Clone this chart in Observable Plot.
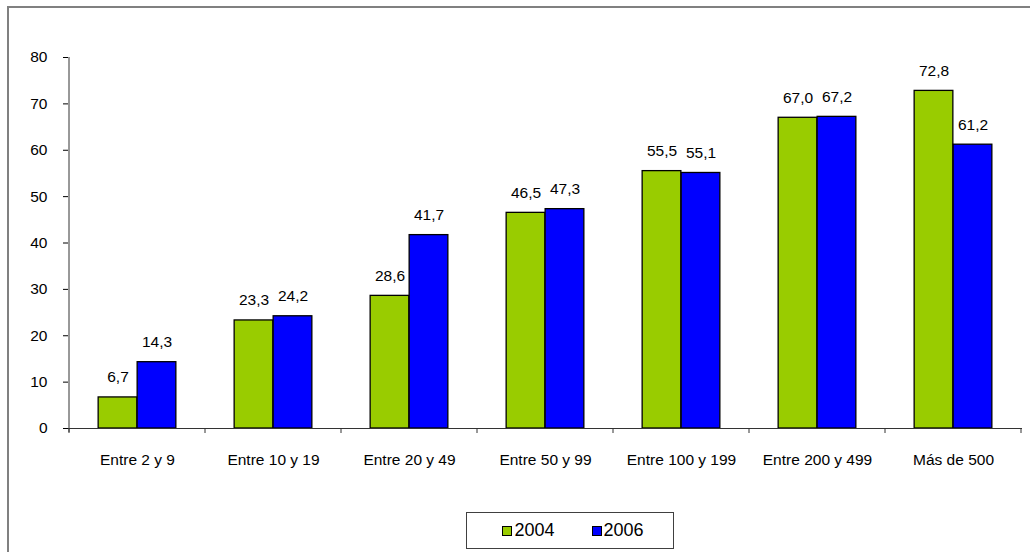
<!DOCTYPE html>
<html>
<head>
<meta charset="utf-8">
<script src="https://cdn.jsdelivr.net/npm/d3@7"></script>
<script src="https://cdn.jsdelivr.net/npm/@observablehq/plot@0.6"></script>
<style>
  body { margin: 0; background: #fff; font-family: "Liberation Sans", Arial, sans-serif; }
  #frame { position: absolute; left: 7px; top: 6px; width: 1040px; height: 560px; border: 2px solid #808080; box-sizing: border-box; }
  #chart { position: absolute; left: 0; top: 0; }
  #legend { position: absolute; left: 466px; top: 512px; width: 208px; height: 37px; box-sizing: border-box;
            border: 1px solid #404040; display: flex; align-items: center; justify-content: center;
            padding-left: 6px; gap: 37px; font-size: 18px; color: #000; background: #fff; }
  .item { display: flex; align-items: center; gap: 2px; }
  .sw { display: inline-block; width: 8px; height: 8px; border: 1.5px solid #000; }
</style>
</head>
<body>
<div id="frame"></div>
<div id="chart"></div>
<div id="legend"></div>
<script>
const categories = ["Entre 2 y 9", "Entre 10 y 19", "Entre 20 y 49", "Entre 50 y 99", "Entre 100 y 199", "Entre 200 y 499", "Más de 500"];
const years = ["2004", "2006"];
const values2004 = [6.7, 23.3, 28.6, 46.5, 55.5, 67.0, 72.8];
const values2006 = [14.3, 24.2, 41.7, 47.3, 55.1, 67.2, 61.2];
const colors = ["#99CC00", "#0000FF"];
const yTicks = [0, 10, 20, 30, 40, 50, 60, 70, 80];

const rows2004 = categories.map((c, i) => ({cat: c, year: years[0], value: values2004[i]}));
const rows2006 = categories.map((c, i) => ({cat: c, year: years[1], value: values2006[i]}));

const W = 1030, ML = 68, MR = 8;
const half = (W - ML - MR) / categories.length / 2;
const barW = 39;
const fmt = v => v.toFixed(1).replace(".", ",");

function axisDecor(index, scales) {
  const x = scales.x, y = scales.y;
  const g = d3.create("svg:g").attr("stroke", "#333").attr("stroke-width", 1);
  const x0 = x(categories[0]);
  g.append("line").attr("x1", x0).attr("x2", x0).attr("y1", y(0) + 4).attr("y2", y(80));
  const bounds = categories.map(c => x(c)).concat([x(categories[categories.length - 1]) + x.bandwidth()]);
  for (const b of bounds) {
    g.append("line").attr("x1", b).attr("x2", b).attr("y1", y(0)).attr("y2", y(0) + 5);
  }
  return g.node();
}

const chart = Plot.plot({
  width: W,
  height: 470,
  marginLeft: ML,
  marginRight: MR,
  marginTop: 57,
  marginBottom: 42,
  style: { fontFamily: "Liberation Sans, Arial, sans-serif", fontSize: "15.5px", color: "#000", background: "transparent" },
  x: { domain: categories, padding: 0, tickSize: 0, tickPadding: 25, label: null },
  y: { domain: [0, 80], ticks: yTicks, tickSize: 5, tickPadding: 16, label: null },
  marks: [
    Plot.barY(rows2004, { x: "cat", y: "value", fill: colors[0], stroke: "#000", strokeWidth: 1.3, insetLeft: half - barW, insetRight: half }),
    Plot.barY(rows2006, { x: "cat", y: "value", fill: colors[1], stroke: "#000", strokeWidth: 1.3, insetLeft: half, insetRight: half - barW }),
    Plot.text(rows2004, { x: "cat", y: "value", text: d => fmt(d.value), dx: -barW / 2, dy: -20, fontSize: 15.5, fill: "#000" }),
    Plot.text(rows2006, { x: "cat", y: "value", text: d => fmt(d.value), dx: barW / 2, dy: -20, fontSize: 15.5, fill: "#000" }),
    Plot.ruleY([0], { stroke: "#333" }),
    axisDecor
  ]
});
document.getElementById("chart").appendChild(chart);

const legend = document.getElementById("legend");
years.forEach((yr, i) => {
  const item = document.createElement("span");
  item.className = "item";
  const sw = document.createElement("span");
  sw.className = "sw";
  sw.style.background = colors[i];
  const t = document.createElement("span");
  t.textContent = yr;
  item.appendChild(sw);
  item.appendChild(t);
  legend.appendChild(item);
});
</script>
</body>
</html>
